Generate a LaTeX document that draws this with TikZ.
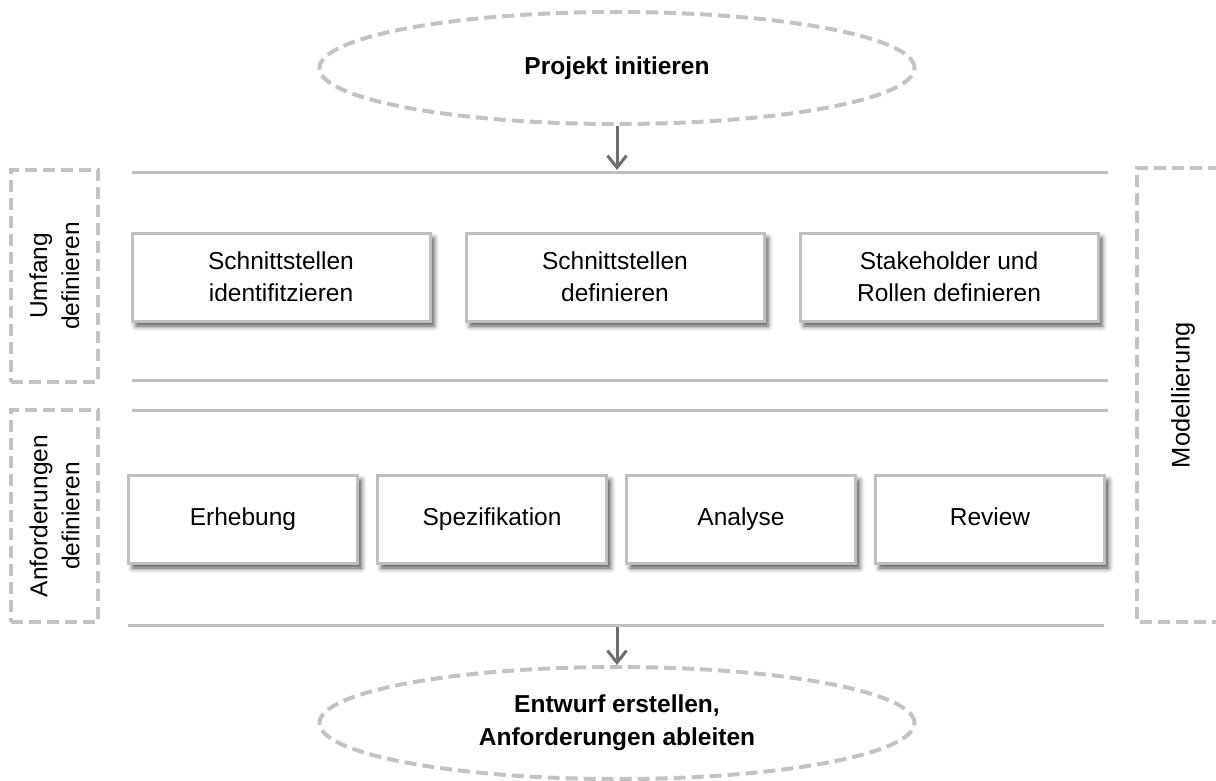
\documentclass[tikz,border=0pt]{standalone}
\usepackage{fontspec}
\setmainfont{Liberation Sans}
\usetikzlibrary{shapes.geometric,arrows.meta,shadows.blur}
\definecolor{dashgray}{HTML}{C3C3C3}
\definecolor{linegray}{HTML}{BFBFBF}
\definecolor{arrgray}{HTML}{6E6E6E}
\tikzset{
  dashframe/.style={draw=dashgray, line width=4pt, dash pattern=on 12pt off 6pt},
  goal/.style={ellipse, dashframe, minimum width=595pt, minimum height=112pt,
    font=\bfseries\fontsize{24.5}{33}\selectfont, align=center},
  stepbox/.style={draw=linegray, line width=3pt, fill=white, minimum height=88pt,
    font=\fontsize{24.5}{32}\selectfont, align=center,
    blur shadow={shadow xshift=4pt, shadow yshift=-5pt, shadow blur radius=5pt, shadow opacity=70}},
  onebox/.style={stepbox, text height=18pt, text depth=5pt},
  sep/.style={draw=linegray, line width=3pt},
  phase/.style={dashframe, minimum width=87pt, minimum height=212pt},
  phasetext/.style={rotate=90, font=\fontsize{24.5}{32}\selectfont, align=center},
  arr/.style={draw=arrgray, line width=3pt, -{Straight Barb[length=12pt,width=19pt,line width=3pt]}}
}
\begin{document}
\begin{tikzpicture}[x=1pt,y=-1pt]
\useasboundingbox (0,0) rectangle (1216,780);

% start and end states
\node[goal] (start) at (617,68) {Projekt initieren};
\node[goal] (ende) at (617,723) {Entwurf erstellen,\\Anforderungen ableiten};

% horizontal separators
\coordinate (s1a) at (132,172); \coordinate (s1b) at (1108,172);
\coordinate (s2a) at (132,380); \coordinate (s2b) at (1108,380);
\coordinate (s3a) at (132,410); \coordinate (s3b) at (1108,410);
\coordinate (s4a) at (128,625); \coordinate (s4b) at (1104,625);
\draw[sep] (s1a) -- (s1b);
\draw[sep] (s2a) -- (s2b);
\draw[sep] (s3a) -- (s3b);
\draw[sep] (s4a) -- (s4b);

% scope activities
\node[stepbox, minimum width=298pt] (if) at (281,277) {Schnittstellen\\identifitzieren};
\node[stepbox, minimum width=298pt] (df) at (615,277) {Schnittstellen\\definieren};
\node[stepbox, minimum width=298pt] (sr) at (949,277) {Stakeholder und\\Rollen definieren};

% requirement activities
\node[onebox, minimum width=229pt] (erh) at (243,519) {Erhebung};
\node[onebox, minimum width=229pt] (spe) at (492,519) {Spezifikation};
\node[onebox, minimum width=229pt] (ana) at (741,519) {Analyse};
\node[onebox, minimum width=229pt] (rev) at (990,519) {Review};

% phase frames on the left
\node[phase] (umfang) at (54.5,276) {};
\node[phasetext] (umfangT) at (umfang) {Umfang\\definieren};
\node[phase] (anf) at (54.5,516) {};
\node[phasetext] (anfT) at (anf) {Anforderungen\\definieren};

% modelling frame on the right, open towards the edge
\coordinate (m1) at (1220,168);
\coordinate (m2) at (1137,168);
\coordinate (m3) at (1137,622);
\coordinate (m4) at (1220,622);
\draw[dashframe] (m1) -- (m2) -- (m3) -- (m4);
\node[phasetext, font=\fontsize{25.5}{32}\selectfont] (modT) at (1183,395) {Modellierung};

% flow arrows
\coordinate (in1) at (617,170);
\coordinate (out1) at (617,627);
\draw[arr] (start.south) -- (in1);
\draw[arr] (out1) -- (ende.north);
\end{tikzpicture}
\end{document}
